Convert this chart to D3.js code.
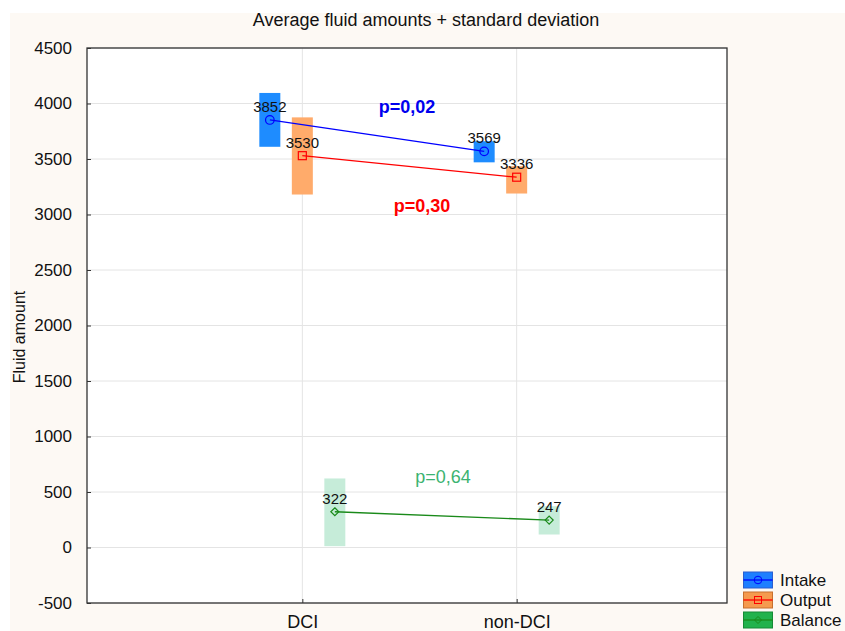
<!DOCTYPE html>
<html><head><meta charset="utf-8">
<script src="https://cdn.jsdelivr.net/npm/d3@7"></script>
<style>body{margin:0;background:#fff;}svg{display:block;font-family:"Liberation Sans",Arial,sans-serif;}</style>
</head><body><svg id="c" width="845" height="631"></svg>
<script>
const categories = ["DCI", "non-DCI"];
const seriesNames = ["Intake", "Output", "Balance"];
const intakeMean = [3852, 3569];
const intakeLow = [3610, 3470];
const intakeHigh = [4095, 3660];
const outputMean = [3530, 3336];
const outputLow = [3180, 3189];
const outputHigh = [3875, 3435];
const balanceMean = [322, 247];
const balanceLow = [12, 117];
const balanceHigh = [622, 372];
const yTicks = [-500, 0, 500, 1000, 1500, 2000, 2500, 3000, 3500, 4000, 4500];
const pLabels = ["p=0,02", "p=0,30", "p=0,64"];

const series = [
  {name: seriesNames[0], mean: intakeMean, low: intakeLow, high: intakeHigh, fill: "#1e8cff", line: "#0000ff", marker: "circle", off: -1, fillOp: 1, lgFill: "#1e7fff", lgStroke: "#2a5fd0"},
  {name: seriesNames[1], mean: outputMean, low: outputLow, high: outputHigh, fill: "#ffab6b", line: "#ff0000", marker: "square", off: 0, fillOp: 1, lgFill: "#f59a4e", lgStroke: "#c8702e"},
  {name: seriesNames[2], mean: balanceMean, low: balanceLow, high: balanceHigh, fill: "#a8e2c4", line: "#1a8a1a", marker: "diamond", off: 1, fillOp: 0.65, lgFill: "#22b24c", lgStroke: "#178a36"}
];

const svg = d3.select("#c");
svg.append("rect").attr("x", 10).attr("y", 13).attr("width", 835).attr("height", 618).attr("fill", "#fdf9f4");

const L = 87, R = 727, T = 48, B = 603;
const y = d3.scaleLinear().domain([-500, 4500]).range([B, T]);
const x = d3.scalePoint().domain(categories).range([88, 731]).padding(1);
const off = 32.5, bw = 21;

const g = svg.append("g");
g.append("rect").attr("x", L).attr("y", T).attr("width", R - L).attr("height", B - T).attr("fill", "#fff");
// grid
g.selectAll(".hg").data(yTicks).join("line").attr("x1", L).attr("x2", R)
  .attr("y1", d => y(d)).attr("y2", d => y(d)).attr("stroke", "#e4e4e4").attr("stroke-width", 1);
g.selectAll(".vg").data(categories).join("line").attr("y1", T).attr("y2", B)
  .attr("x1", d => x(d)).attr("x2", d => x(d)).attr("stroke", "#e4e4e4").attr("stroke-width", 1);

// axes
const ya = g.append("g").attr("transform", `translate(${L},0)`)
  .call(d3.axisLeft(y).tickValues(yTicks).tickFormat(d => String(d)).tickSize(-4).tickPadding(15));
const xa = g.append("g").attr("transform", `translate(0,${B})`)
  .call(d3.axisBottom(x).tickSize(-4).tickPadding(12));
[ya, xa].forEach(a => { a.select(".domain").remove(); a.attr("font-size", null).attr("font-family", null);
  a.selectAll("line").attr("stroke", "#333"); a.selectAll("text").attr("fill", "#111"); });
ya.selectAll("text").style("font-size", "17px");
xa.selectAll("text").style("font-size", "18px");
g.append("rect").attr("x", L).attr("y", T).attr("width", R - L).attr("height", B - T).attr("fill", "none").attr("stroke", "#333").attr("stroke-width", 1.3);

// boxes
series.forEach(s => {
  const px = i => x(categories[i]) + s.off * off;
  g.selectAll(null).data(categories).join("rect")
    .attr("x", (d, i) => px(i) - bw / 2).attr("width", bw)
    .attr("y", (d, i) => y(s.high[i])).attr("height", (d, i) => y(s.low[i]) - y(s.high[i]))
    .attr("fill", s.fill).attr("fill-opacity", s.fillOp);
});
series.forEach(s => {
  const px = i => x(categories[i]) + s.off * off;
  const line = d3.line().x((d, i) => px(i)).y(d => y(d));
  g.append("path").attr("d", line(s.mean)).attr("stroke", s.line).attr("fill", "none").attr("stroke-width", 1.3);
  s.mean.forEach((v, i) => {
    const cx = px(i), cy = y(v);
    if (s.marker === "circle") g.append("circle").attr("cx", cx).attr("cy", cy).attr("r", 4.3).attr("fill", "none").attr("stroke", s.line).attr("stroke-width", 1.2);
    else if (s.marker === "square") g.append("rect").attr("x", cx - 4).attr("y", cy - 4).attr("width", 8).attr("height", 8).attr("fill", "none").attr("stroke", s.line).attr("stroke-width", 1.2);
    else g.append("path").attr("d", `M${cx},${cy-4}L${cx+4},${cy}L${cx},${cy+4}L${cx-4},${cy}Z`).attr("fill", "none").attr("stroke", s.line).attr("stroke-width", 1.2);
    g.append("text").attr("x", cx).attr("y", cy - 8).attr("text-anchor", "middle").style("font-size", "15px").attr("fill", "#111").text(v);
  });
});

// p labels
const pPos = [[407, 113, "#0000ee", "bold"], [422, 212, "#ff0000", "bold"], [443, 483, "#3cb371", "normal"]];
pLabels.forEach((t, i) => {
  svg.append("text").attr("x", pPos[i][0]).attr("y", pPos[i][1]).attr("text-anchor", "middle")
    .style("font-size", "18px").attr("font-weight", pPos[i][3]).attr("fill", pPos[i][2]).text(t);
});

// title and y label
svg.append("text").attr("x", 426).attr("y", 26).attr("text-anchor", "middle").style("font-size", "18px").attr("fill", "#111")
  .text("Average fluid amounts + standard deviation");
svg.append("text").attr("transform", "translate(25,337) rotate(-90)").attr("text-anchor", "middle").style("font-size", "16px").attr("fill", "#111").text("Fluid amount");

// legend
const lg = svg.append("g");
series.forEach((s, i) => {
  const yy = 572 + i * 20;
  lg.append("rect").attr("x", 743.5).attr("y", yy).attr("width", 29).attr("height", 16).attr("fill", s.lgFill).attr("stroke", s.lgStroke).attr("stroke-width", 1);
  const cx = 758, cy = yy + 8;
  lg.append("line").attr("x1", 743.5).attr("x2", 772.5).attr("y1", cy).attr("y2", cy).attr("stroke", s.line).attr("stroke-width", 1.3);
  if (s.marker === "circle") lg.append("circle").attr("cx", cx).attr("cy", cy).attr("r", 3.8).attr("fill", "none").attr("stroke", s.line);
  else if (s.marker === "square") lg.append("rect").attr("x", cx - 3.5).attr("y", cy - 3.5).attr("width", 7).attr("height", 7).attr("fill", "none").attr("stroke", s.line);
  else lg.append("path").attr("d", `M${cx},${cy-3.5}L${cx+3.5},${cy}L${cx},${cy+3.5}L${cx-3.5},${cy}Z`).attr("fill", "none").attr("stroke", s.line);
  lg.append("text").attr("x", 780).attr("y", yy + 14).style("font-size", "17px").attr("fill", "#111").text(s.name);
});
</script></body></html>
